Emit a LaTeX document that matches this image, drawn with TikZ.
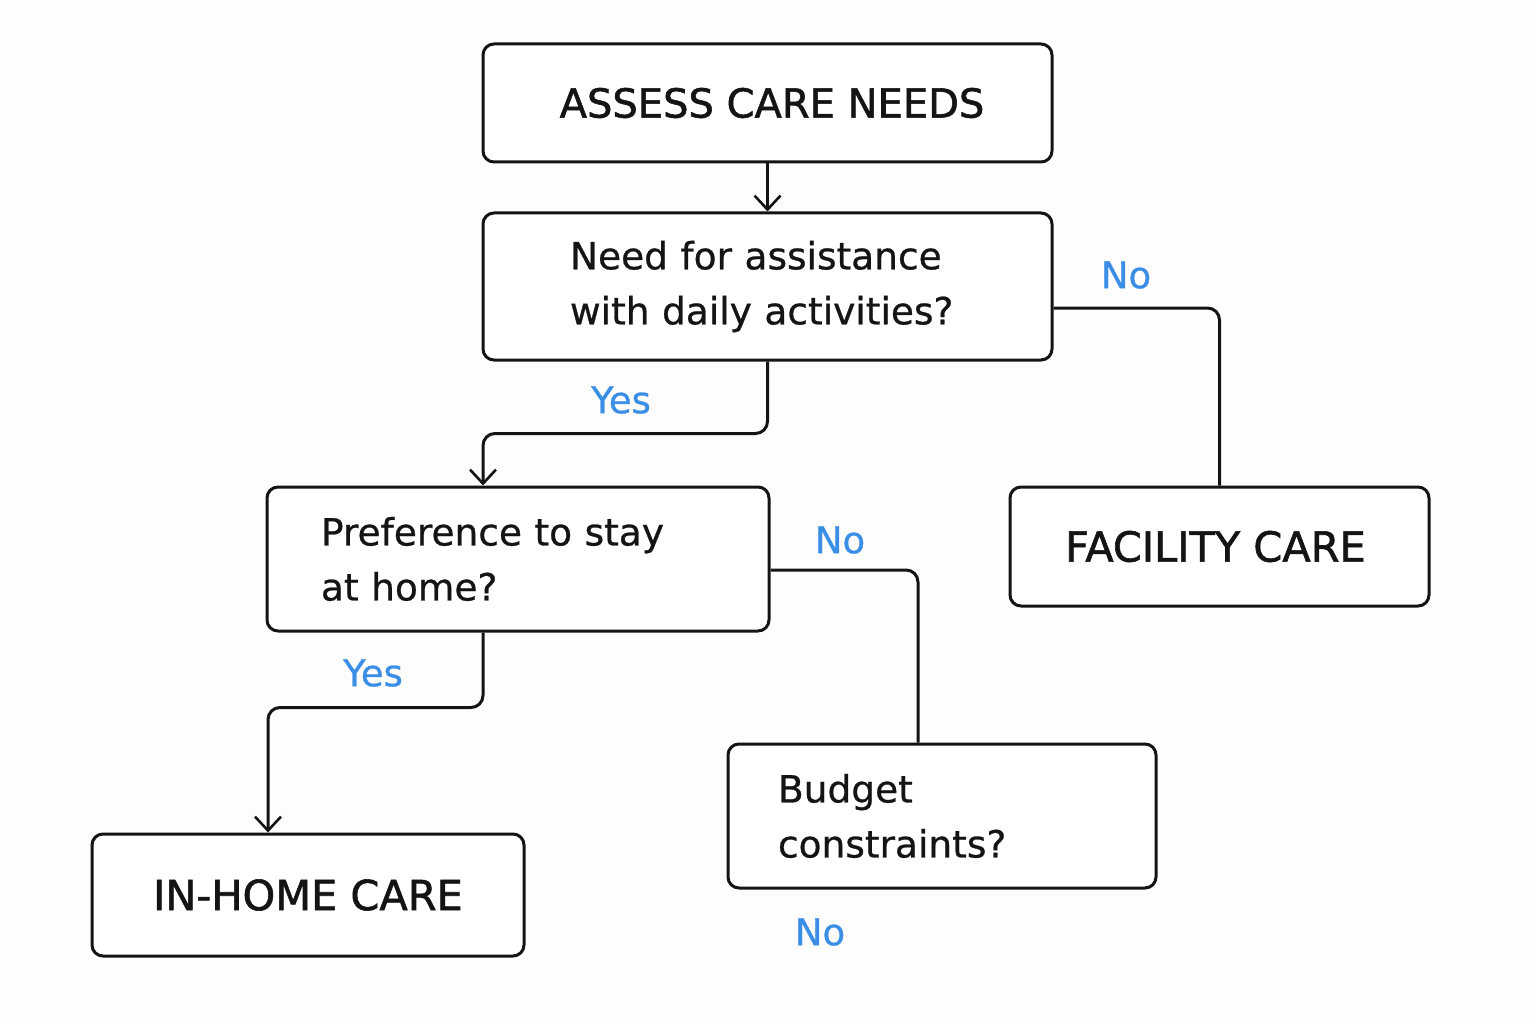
\documentclass[tikz,border=0pt]{standalone}
\usepackage{fontspec}
\setmainfont{DejaVu Sans}[FakeBold=0.7]
\newfontfamily\capsfont{DejaVu Sans}[FakeBold=1.4]
\usetikzlibrary{arrows.meta}
\definecolor{lab}{HTML}{3A8EE6}
\definecolor{ink}{HTML}{141414}
\definecolor{bgc}{HTML}{FDFDFD}
\begin{document}
\begin{tikzpicture}[x=1pt,y=-1pt,
  box/.style={draw=ink, line width=3pt, rounded corners=11pt, fill=white, text=ink, inner sep=0pt},
  capsbox/.style={box, font=\capsfont\fontsize{40}{48}\selectfont, align=center},
  qbox/.style={box, font=\fontsize{37.5}{55}\selectfont, align=left},
  conn/.style={draw=ink, line width=3pt, rounded corners=12pt},
  tip/.style={-{Straight Barb[length=14pt,width=26pt,line width=2.6pt]}},
  lbl/.style={text=lab, font=\fontsize{37}{44}\selectfont, inner sep=0pt}]
\fill[bgc] (0,0) rectangle (1536,1024);
\useasboundingbox (0,0) rectangle (1536,1024);

\node[capsbox, minimum width=569pt, minimum height=118pt] (A) at (767.5,103) {\hspace*{9pt}ASSESS CARE NEEDS};
\node[qbox, inner xsep=87pt, text width=395pt, minimum height=147pt] (B) at (767.5,286.5) {Need for assistance\\with daily activities?};
\node[qbox, inner xsep=54pt, text width=394pt, minimum height=144pt] (C) at (518,559) {Preference to stay\\at home?};
\node[capsbox, font=\capsfont\fontsize{41.5}{48}\selectfont, minimum width=419pt, minimum height=119pt] (D) at (1219.5,546.5) {\hspace*{-8pt}FACILITY CARE};
\node[qbox, inner xsep=50pt, text width=328pt, minimum height=144pt] (E) at (942,816) {Budget\\constraints?};
\node[capsbox, font=\capsfont\fontsize{41.5}{48}\selectfont, minimum width=432pt, minimum height=122pt] (F) at (308,895) {IN-HOME CARE};

\draw[conn, tip] (A.south) -- (B.north);
\draw[conn, tip] (B.south) -- ++(0,72) -| ([xshift=-35pt]C.north);
\draw[conn] ([yshift=-21.5pt]B.east) -| (D.north);
\draw[conn, tip] ([xshift=-35pt]C.south) -- ++(0,75) -| ([xshift=-40pt]F.north);
\draw[conn] ([yshift=-11pt]C.east) -| ([xshift=-24pt]E.north);

\node[lbl] (y1) at (621,400) {Yes};
\node[lbl] (n1) at (1126,275) {No};
\node[lbl] (n2) at (840,540) {No};
\node[lbl] (y2) at (373,673) {Yes};
\node[lbl] (n3) at (820,932) {No};
\end{tikzpicture}
\end{document}
